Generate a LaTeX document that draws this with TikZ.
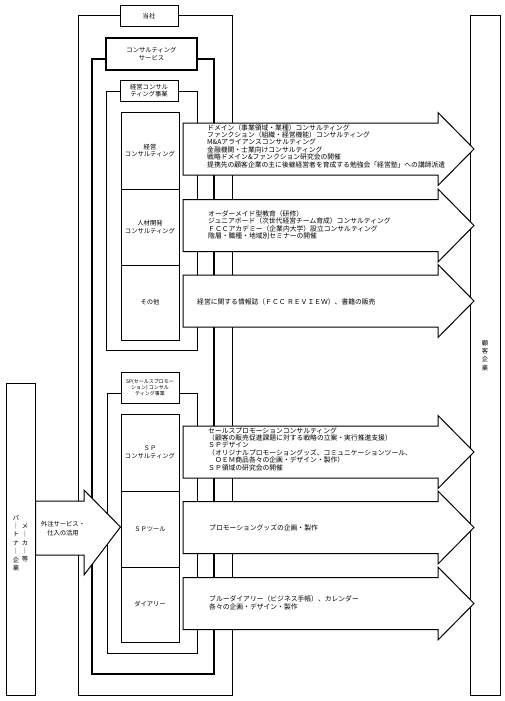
\documentclass[tikz,border=0pt]{standalone}
\usepackage{fontspec}
\setmainfont{Noto Sans CJK JP}
\tikzset{
  outerframe/.style={draw, line width=1pt},
  boldframe/.style={draw, line width=1.5pt},
  titlebox/.style={draw, fill=white, line width=1pt, inner sep=0pt, align=center, font=\fontsize{6.3}{7.4}\selectfont},
  unitbox/.style={draw, line width=1pt, inner sep=0pt, align=center, minimum width=58pt, minimum height=77pt, font=\fontsize{6.3}{7.6}\selectfont},
  blockarrow/.style={draw, fill=white, line width=1pt, line join=miter},
  desc/.style={anchor=west, inner sep=0pt, align=left, font=\fontsize{6.8}{7.4}\selectfont},
  tate/.style={inner sep=0pt, align=center, font=\fontsize{6.3}{8.4}\selectfont},
}
% arrow to the customer box, #1 = centre line
\newcommand{\svcarrow}[1]{%
  \draw[blockarrow] (183,{#1-26}) -- (438,{#1-26}) -- (438,{#1-36.5}) -- (474,#1)
    -- (438,{#1+36.5}) -- (438,{#1+26}) -- (183,{#1+26}) -- cycle;}
\begin{document}
\begin{tikzpicture}[x=1pt, y=-1pt]
    \useasboundingbox (0,0) rectangle (505,701);
    % frames
    \draw[outerframe] (78,16) rectangle (232,695);
    \draw[boldframe] (92,59) rectangle (214,674);
    \draw[outerframe] (106,91) rectangle (197,350);
    \draw[outerframe] (107,393) rectangle (197,653);
    \node[titlebox, minimum width=58pt, minimum height=21pt] (tousha) at (149,16.5) {当社};
    \node[titlebox, line width=1.5pt, minimum width=91pt, minimum height=32pt] (service) at (151.5,54) {コンサルティング\\サービス};
    \node[titlebox, minimum width=58pt, minimum height=21pt] (keieiJigyo) at (149,90.5) {経営コンサル\\ティング事業};
    \node[titlebox, minimum width=58pt, minimum height=31pt, font=\fontsize{5}{6.2}\selectfont] (spJigyo) at (150,387.5) {SP(セールスプロモー\\ション) コンサル\\ティング事業};
    % units
    \node[unitbox] (keieiC) at (150,150.5) {経営\\コンサルティング};
    \node[unitbox, minimum height=76pt] (jinzai) at (150,227) {人材開発\\コンサルティング};
    \node[unitbox, minimum height=75pt] (sonota) at (150,302.5) {その他};
    \node[unitbox] (spC) at (150,452.5) {ＳＰ\\コンサルティング};
    \node[unitbox, minimum height=76pt] (spTool) at (150,529) {ＳＰツール};
    \node[unitbox, minimum height=75pt] (diary) at (150,604.5) {ダイアリー};
    % customer and partner
    \node[draw, line width=1pt, minimum width=30pt, minimum height=679pt, inner sep=0pt] (kokyaku) at (485,355.5) {};
    \node[tate] (kokyakuT) at (kokyaku) {顧\\客\\企\\業};
    \node[draw, line width=1pt, minimum width=29pt, minimum height=312pt, inner sep=0pt] (partner) at (20.5,539) {};
    \node[tate] (makerT) at (25,543) {メ\\｜\\カ\\｜\\等};
    \node[tate] (partnerT) at (16,543) {パ\\｜\\ト\\ナ\\｜\\企\\業};
    % arrows
    \svcarrow{149}
    \svcarrow{225.5}
    \svcarrow{301}
    \svcarrow{452}
    \svcarrow{527.5}
    \svcarrow{603.5}
    \draw[blockarrow] (partner.east |- 0,501) -- (84,501) -- (84,490) -- (spTool.west |- 0,527)
      -- (84,575) -- (84,555) -- (partner.east |- 0,555) -- cycle;
    \node[tate, font=\fontsize{6.3}{8.6}\selectfont] (gaichu) at (63,528.5) {外注サービス・\\仕入の活用};
    % texts
    \node[desc] (keieiT) at (207,146) {ドメイン（事業領域・業種）コンサルティング\\
      ファンクション（組織・経営機能）コンサルティング\\
      M\&Aアライアンスコンサルティング\\
      金融機関・士業向けコンサルティング\\
      戦略ドメイン\&ファンクション研究会の開催\\
      提携先の顧客企業の主に後継経営者を育成する勉強会「経営塾」への講師派遣};
    \node[desc] (jinzaiT) at (208,225) {オーダーメイド型教育（研修）\\
      ジュニアボード（次世代経営チーム育成）コンサルティング\\
      ＦＣＣアカデミー（企業内大学）設立コンサルティング\\
      階層・職種・地域別セミナーの開催};
    \node[desc] (sonotaT) at (197,302) {経営に関する情報誌（ＦＣＣ ＲＥＶＩＥＷ）、書籍の販売};
    \node[desc] (spCT) at (208,449) {セールスプロモーションコンサルティング\\
      （顧客の販売促進課題に対する戦略の立案・実行推進支援）\\
      ＳＰデザイン\\
      （オリジナルプロモーショングッズ、コミュニケーションツール、\\
      \hspace{6.8pt}ＯＥＭ商品各々の企画・デザイン・製作）\\
      ＳＰ領域の研究会の開催};
    \node[desc] (spToolT) at (209,528) {プロモーショングッズの企画・製作};
    \node[desc] (diaryT) at (209,603) {ブルーダイアリー（ビジネス手帳）、カレンダー\\
      各々の企画・デザイン・製作};
\end{tikzpicture}
\end{document}
